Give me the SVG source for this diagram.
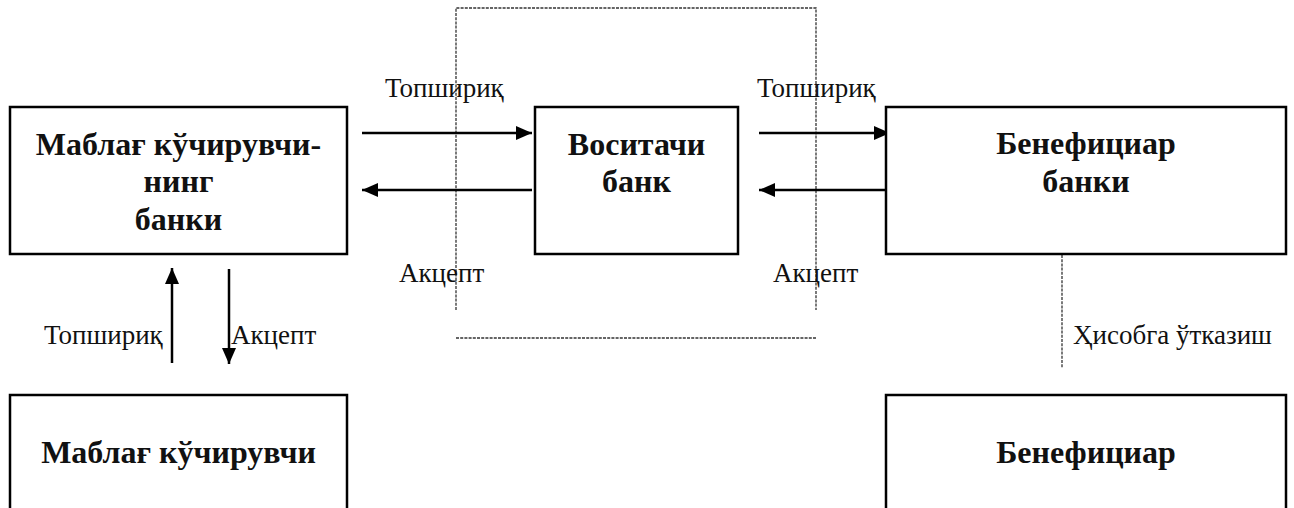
<svg xmlns="http://www.w3.org/2000/svg" width="1294" height="508" viewBox="0 0 1294 508">
<defs>
<style>
.box{fill:#fff;stroke:#000;stroke-width:2.5}
.bt{font-family:"Liberation Serif","Times New Roman",serif;font-weight:bold;font-size:32px;fill:#111;text-anchor:middle}
.lt{font-family:"Liberation Serif","Times New Roman",serif;font-size:27px;fill:#111}
.arr{stroke:#000;stroke-width:2.5;fill:none;marker-end:url(#ah)}
.dash{stroke:#333;stroke-width:1.3;fill:none;stroke-dasharray:3 1.2}
</style>
<marker id="ah" viewBox="0 0 16 14" refX="16" refY="7" markerWidth="16" markerHeight="14" markerUnits="userSpaceOnUse" orient="auto">
<path d="M0,0 L16,7 L0,14 Z" fill="#000"/>
</marker>
</defs>
<rect width="1294" height="508" fill="#fff"/>
<g id="connectors">
<path class="dash" d="M456,310 V8 H816 V310"/>
<line class="dash" x1="456" y1="338" x2="816" y2="338"/>
<line class="dash" x1="1062" y1="255" x2="1062" y2="368"/>
<line class="arr" x1="362" y1="133" x2="532" y2="133"/>
<line class="arr" x1="532" y1="190" x2="362" y2="190"/>
<line class="arr" x1="759" y1="133" x2="890" y2="133"/>
<line class="arr" x1="890" y1="190" x2="759" y2="190"/>
<line class="arr" x1="172" y1="363" x2="172" y2="268"/>
<line class="arr" x1="229" y1="269" x2="229" y2="364"/>
<text class="lt" x="385" y="97">Топшириқ</text>
<text class="lt" x="757" y="97">Топшириқ</text>
<text class="lt" x="399" y="282">Акцепт</text>
<text class="lt" x="773" y="282">Акцепт</text>
<text class="lt" x="44" y="344">Топшириқ</text>
<text class="lt" x="231" y="344">Акцепт</text>
<text class="lt" x="1073" y="344">Ҳисобга ўтказиш</text>
</g>
<g id="node-payer-bank">
<rect class="box" x="10" y="107" width="337" height="147"/>
<text class="bt" x="178.5" y="155">Маблағ кўчирувчи-</text>
<text class="bt" x="178.5" y="192">нинг</text>
<text class="bt" x="178.5" y="230">банки</text>
</g>
<g id="node-intermediary-bank">
<rect class="box" x="535" y="107" width="203" height="147"/>
<text class="bt" x="636.5" y="155">Воситачи</text>
<text class="bt" x="636.5" y="192">банк</text>
</g>
<g id="node-beneficiary-bank">
<rect class="box" x="886" y="107" width="400" height="147"/>
<text class="bt" x="1086" y="154">Бенефициар</text>
<text class="bt" x="1086" y="192">банки</text>
</g>
<g id="node-payer">
<rect class="box" x="10" y="395" width="337" height="130"/>
<text class="bt" x="178.5" y="463">Маблағ кўчирувчи</text>
</g>
<g id="node-beneficiary">
<rect class="box" x="886" y="395" width="400" height="130"/>
<text class="bt" x="1086" y="463">Бенефициар</text>
</g>
</svg>
